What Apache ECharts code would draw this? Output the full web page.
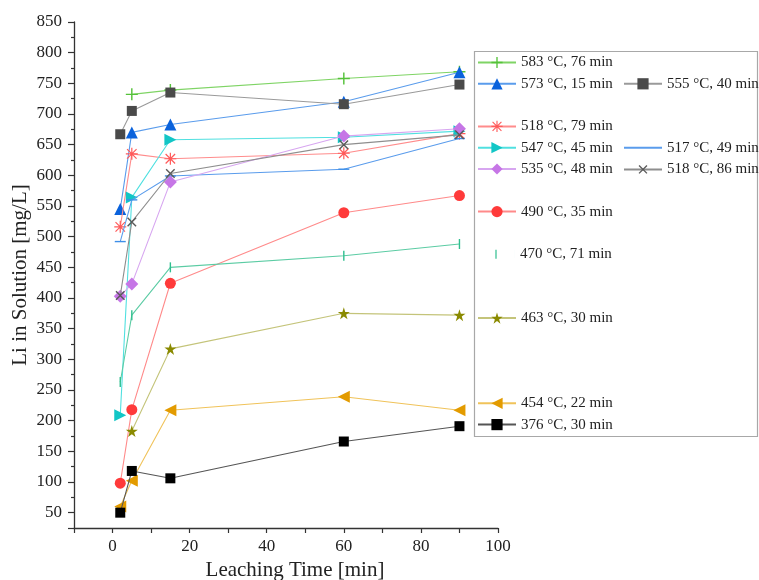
<!DOCTYPE html>
<html>
<head>
<meta charset="utf-8">
<script src="https://cdn.jsdelivr.net/npm/echarts@6/dist/echarts.min.js"></script>
<style>
  html, body { margin: 0; padding: 0; background: #ffffff; }
  #chart { width: 759px; height: 580px; }
</style>
</head>
<body>
<div id="chart"></div>
<script>
// Leaching times (min) at which Li concentration was sampled
const times = [2, 5, 15, 60, 90];

// Roasting conditions (legend names)
const names = [
  '583 °C, 76 min', '573 °C, 15 min', '555 °C, 40 min', '518 °C, 79 min',
  '547 °C, 45 min', '517 °C, 49 min', '535 °C, 48 min', '518 °C, 86 min',
  '490 °C, 35 min', '470 °C, 71 min', '463 °C, 30 min', '454 °C, 22 min',
  '376 °C, 30 min'
];

// Li in solution [mg/L] for each condition, one value per leaching time
const li583_76 = [null, 732, 739, 758, 769];
const li573_15 = [545, 670, 683, 720, 768];
const li555_40 = [667, 705, 735, 716, 748];
const li518_79 = [516, 635, 627, 636, 668];
const li547_45 = [209, 564, 658, 662, 672];
const li517_49 = [492, 560, 599, 610, 660];
const li535_48 = [403, 423, 589, 664, 676];
const li518_86 = [404, 524, 603, 650, 666];
const li490_35 = [98, 218, 424, 539, 567];
const li470_71 = [263, 372, 450, 469, 488];
const li463_30 = [null, 183, 317, 375, 372];
const li454_22 = [60, 102, 217, 239, 217];
const li376_30 = [50, 118, 106, 166, 191];

const values = [li583_76, li573_15, li555_40, li518_79, li547_45, li517_49,
  li535_48, li518_86, li490_35, li470_71, li463_30, li454_22, li376_30];

// Marker shapes
const PLUS = 'path://M4.4,0h1.2v10h-1.2zM0,4.4h10v1.2h-10z';
const ASTER = 'path://M4.5,0h1v10h-1zM0,4.5h10v1h-10zM0.7,1.4L1.4,0.7L9.3,8.6L8.6,9.3zM8.6,0.7L9.3,1.4L1.4,9.3L0.7,8.6z';
const STAR = 'path://M10,0L12.25,6.91L19.51,6.91L13.63,11.18L15.88,18.09L10,13.82L4.12,18.09L6.37,11.18L0.49,6.91L7.75,6.91z';
const TRI_R = 'path://M0,0L10,5L0,10z';
const TRI_L = 'path://M10,0L0,5L10,10z';
// legend icon: a short vertical tick centred in a 38 x 9 box
const VTICK_ICON = 'path://M0,0h0.01v9h-0.01zM18.4,0h1.2v9h-1.2zM37.99,0h0.01v9h-0.01z';

// Per-series styling: marker colour, line colour, symbol, size, rotation
const styles = [
  { mark: '#55c23a', line: '#7fd465', symbol: PLUS, size: 12 },
  { mark: '#0a62dc', line: '#5a9cec', symbol: 'triangle', size: 12 },
  { mark: '#4a4a4a', line: '#9a9a9a', symbol: 'rect', size: 10 },
  { mark: '#ff5a5a', line: '#ff8c8c', symbol: ASTER, size: 12 },
  { mark: '#12c6c6', line: '#50e0e0', symbol: TRI_R, size: 12 },
  { mark: '#3d8ee8', line: '#5a9cec', symbol: 'rect', size: [11, 1.4] },
  { mark: '#c676e6', line: '#d7a6f0', symbol: 'diamond', size: 13 },
  { mark: '#5a5a5a', line: '#8e8e8e', symbol: PLUS, size: 12, rotate: 45 },
  { mark: '#ff3a3a', line: '#ff8a8a', symbol: 'circle', size: 11 },
  { mark: '#2fbf8f', line: '#5ccca4', symbol: 'rect', size: [1.4, 10] },
  { mark: '#8a8a00', line: '#c4c47a', symbol: STAR, size: 12 },
  { mark: '#e39b00', line: '#f0c35a', symbol: TRI_L, size: 12 },
  { mark: '#000000', line: '#555555', symbol: 'rect', size: 10 }
];

// Legend layout: column (0/1) and row inside the framed legend box
const legendSlots = [
  [0, 1], [0, 2], [1, 2], [0, 4], [0, 5], [1, 5], [0, 6], [1, 6],
  [0, 8], [0, 10], [0, 13], [0, 17], [0, 18]
];
const colX = [477, 623];
const rowY0 = 63, rowStep = 21.3;

const FONT = '"Liberation Serif", "DejaVu Serif", serif';

const series = names.map((name, i) => {
  const st = styles[i];
  return {
    name: name,
    type: 'line',
    data: times.map((t, k) => [t, values[i][k]]),
    connectNulls: false,
    symbol: st.symbol,
    symbolSize: st.size,
    symbolRotate: st.rotate || 0,
    showAllSymbol: true,
    itemStyle: { color: st.mark },
    lineStyle: { color: st.line, width: 1.1 },
    emphasis: { disabled: true },
    animation: false,
    z: 2 + i
  };
});

const legends = names.map((name, i) => {
  const [col, row] = legendSlots[i];
  const cy = rowY0 + (row - 1) * rowStep;
  const item = { name: name };
  if (i === 5) {
    // plain line entry
    item.itemStyle = { opacity: 0 };
  }
  if (i === 9) {
    item.icon = VTICK_ICON;
  }
  return {
    data: [item],
    left: colX[col],
    top: cy - 8,
    orient: 'horizontal',
    padding: 0,
    itemGap: 0,
    itemWidth: 38,
    itemHeight: i === 9 ? 9 : 14,
    symbolKeepAspect: true,
    selectedMode: false,
    textStyle: { fontFamily: FONT, fontSize: 15, color: '#222', padding: [1, 0, 0, 0] }
  };
});

const chart = echarts.init(document.getElementById('chart'), null, { renderer: 'canvas' });
chart.setOption({
  backgroundColor: '#ffffff',
  animation: false,
  grid: { left: 74, right: 261, top: 22, bottom: 52, containLabel: false, outerBoundsMode: 'none' },
  xAxis: {
    type: 'value',
    min: -10,
    max: 100,
    interval: 10,
    name: 'Leaching Time [min]',
    nameLocation: 'middle',
    nameGap: 32,
    nameMoveOverlap: false,
    nameTextStyle: { fontFamily: FONT, fontSize: 21, color: '#222', padding: [0, 0, 0, 18] },
    axisLine: { show: true, onZero: false, lineStyle: { color: '#333', width: 1.3 } },
    axisTick: { show: true, inside: false, length: 5, lineStyle: { color: '#333', width: 1.2 } },
    axisLabel: {
      fontFamily: FONT, fontSize: 17, color: '#222', margin: 10,
      formatter: v => (v >= 0 && v % 20 === 0) ? String(v) : ''
    },
    splitLine: { show: false }
  },
  yAxis: {
    type: 'value',
    min: 25,
    max: 850,
    splitNumber: 17,
    name: 'Li in Solution [mg/L]',
    nameLocation: 'middle',
    nameGap: 43,
    nameMoveOverlap: false,
    nameTextStyle: { fontFamily: FONT, fontSize: 21, color: '#222' },
    axisLine: { show: true, onZero: false, lineStyle: { color: '#333', width: 1.3 } },
    axisTick: { show: true, inside: false, length: 6, lineStyle: { color: '#333', width: 1.2 } },
    minorTick: { show: true, splitNumber: 2, length: 3, lineStyle: { color: '#333', width: 1.2 } },
    axisLabel: { fontFamily: FONT, fontSize: 17, color: '#222', margin: 12, showMinLabel: false },
    splitLine: { show: false }
  },
  legend: legends,
  graphic: [{
    type: 'rect',
    shape: { x: 474.5, y: 51.5, width: 283, height: 385 },
    style: { fill: 'none', stroke: '#a8a8a8', lineWidth: 1.2 },
    z: 0,
    silent: true
  }],
  series: series
});
</script>
</body>
</html>
